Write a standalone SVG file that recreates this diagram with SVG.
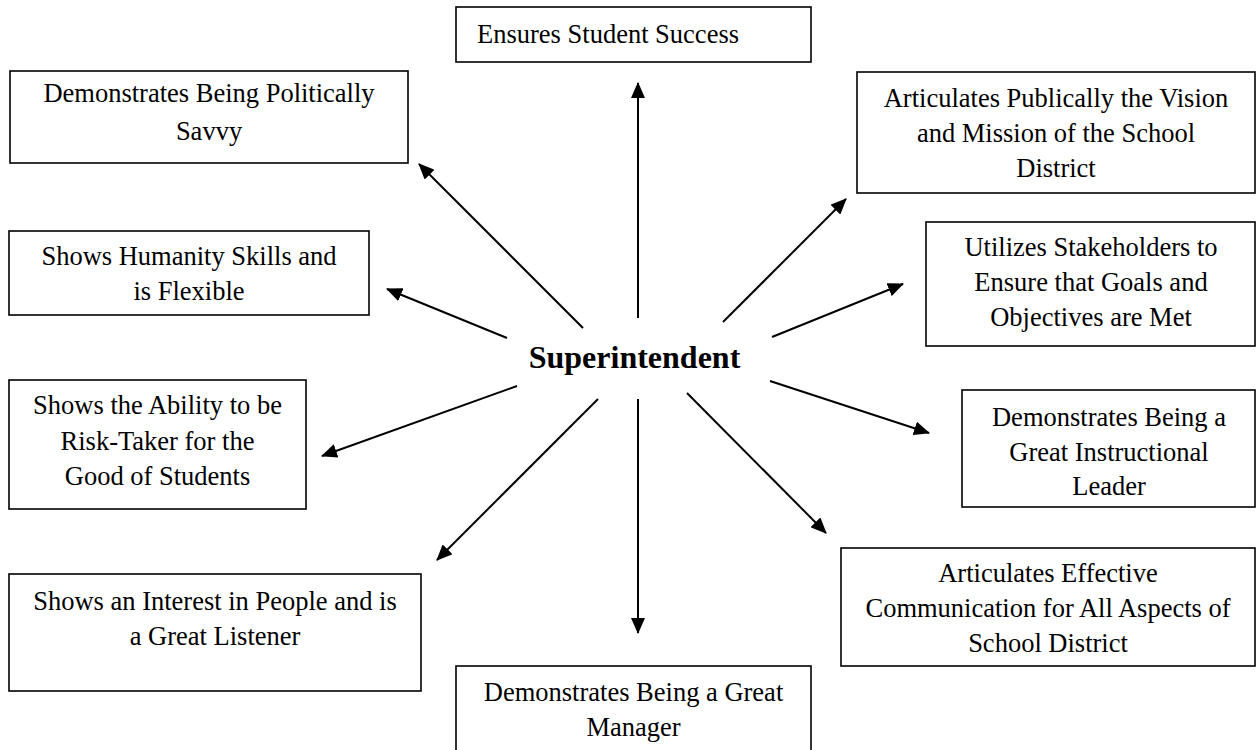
<svg xmlns="http://www.w3.org/2000/svg" width="1256" height="750" viewBox="0 0 1256 750">
<style>
  .box { fill: #ffffff; stroke: #000000; stroke-width: 1.6; }
  .lbl { font-family: "Liberation Serif", "Times New Roman", serif; font-size: 26.5px; fill: #000000; text-anchor: middle; }
  .hub { font-family: "Liberation Serif", "Times New Roman", serif; font-size: 32px; font-weight: bold; fill: #000000; text-anchor: middle; }
  .conn { stroke: #000000; stroke-width: 2; fill: none; marker-end: url(#arrow); }
</style>
<defs>
  <marker id="arrow" viewBox="0 0 16 14" refX="15" refY="7" markerWidth="16" markerHeight="14" markerUnits="userSpaceOnUse" orient="auto">
    <path d="M0,0 L16,7 L0,14 z" fill="#000000"/>
  </marker>
</defs>
<rect width="1256" height="750" fill="#ffffff"/>

<g id="connectors">
  <line class="conn" x1="638" y1="318" x2="638" y2="83"/>
  <line class="conn" x1="638" y1="399" x2="638" y2="633"/>
  <line class="conn" x1="583" y1="328" x2="419" y2="164"/>
  <line class="conn" x1="507" y1="338" x2="387" y2="289"/>
  <line class="conn" x1="517" y1="386" x2="322" y2="456"/>
  <line class="conn" x1="598" y1="399" x2="437" y2="560"/>
  <line class="conn" x1="723" y1="322" x2="846" y2="199"/>
  <line class="conn" x1="772" y1="337" x2="903" y2="284"/>
  <line class="conn" x1="770" y1="381" x2="929" y2="433"/>
  <line class="conn" x1="687" y1="393" x2="826" y2="533"/>
</g>

<g id="superintendent">
  <text class="hub" x="634.5" y="368">Superintendent</text>
</g>

<g id="node-student-success">
  <rect class="box" x="456" y="7" width="355" height="55"/>
  <text class="lbl" x="477" y="43" style="text-anchor:start">Ensures Student Success</text>
</g>

<g id="node-politically-savvy">
  <rect class="box" x="10" y="71" width="398" height="92"/>
  <text class="lbl" x="209" y="102">Demonstrates Being Politically</text>
  <text class="lbl" x="209" y="140">Savvy</text>
</g>

<g id="node-humanity">
  <rect class="box" x="9" y="231" width="360" height="84"/>
  <text class="lbl" x="189" y="265">Shows Humanity Skills and</text>
  <text class="lbl" x="189" y="300">is Flexible</text>
</g>

<g id="node-risk-taker">
  <rect class="box" x="9" y="380" width="297" height="129"/>
  <text class="lbl" x="157.5" y="414">Shows the Ability to be</text>
  <text class="lbl" x="157.5" y="450">Risk-Taker for the</text>
  <text class="lbl" x="157.5" y="485">Good of Students</text>
</g>

<g id="node-interest">
  <rect class="box" x="9" y="574" width="412" height="117"/>
  <text class="lbl" x="215" y="610">Shows an Interest in People and is</text>
  <text class="lbl" x="215" y="645">a Great Listener</text>
</g>

<g id="node-manager">
  <rect class="box" x="456" y="666" width="355" height="90"/>
  <text class="lbl" x="633.5" y="701">Demonstrates Being a Great</text>
  <text class="lbl" x="633.5" y="736">Manager</text>
</g>

<g id="node-vision">
  <rect class="box" x="857" y="72" width="398" height="121"/>
  <text class="lbl" x="1056" y="107">Articulates Publically the Vision</text>
  <text class="lbl" x="1056" y="142">and Mission of the School</text>
  <text class="lbl" x="1056" y="177">District</text>
</g>

<g id="node-stakeholders">
  <rect class="box" x="926" y="222" width="329" height="124"/>
  <text class="lbl" x="1091" y="256">Utilizes Stakeholders to</text>
  <text class="lbl" x="1091" y="291">Ensure that Goals and</text>
  <text class="lbl" x="1091" y="326">Objectives are Met</text>
</g>

<g id="node-instructional">
  <rect class="box" x="962" y="390" width="293" height="117"/>
  <text class="lbl" x="1109" y="426">Demonstrates Being a</text>
  <text class="lbl" x="1109" y="461">Great Instructional</text>
  <text class="lbl" x="1109" y="495">Leader</text>
</g>

<g id="node-communication">
  <rect class="box" x="841" y="548" width="414" height="118"/>
  <text class="lbl" x="1048" y="582">Articulates Effective</text>
  <text class="lbl" x="1048" y="617">Communication for All Aspects of</text>
  <text class="lbl" x="1048" y="652">School District</text>
</g>
</svg>
